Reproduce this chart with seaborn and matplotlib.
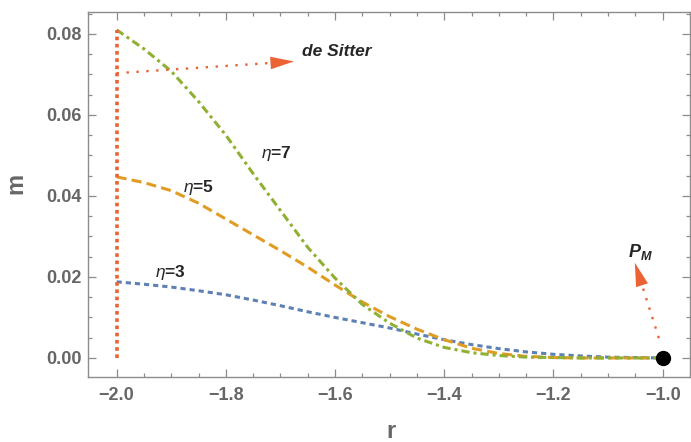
import pandas as pd
import matplotlib
matplotlib.use("Agg")
import matplotlib.pyplot as plt
import seaborn as sns

# values
r_vals = [-2.00, -1.95, -1.90, -1.85, -1.80, -1.75, -1.70, -1.65, -1.60, -1.55, -1.50,
          -1.45, -1.40, -1.35, -1.30, -1.25, -1.20, -1.15, -1.10, -1.05, -1.00]
m_eta3 = [0.0188, 0.0182, 0.0175, 0.0166, 0.0156, 0.0143, 0.0129, 0.0114, 0.0100, 0.0087, 0.0074,
          0.0059, 0.0045, 0.0033, 0.0023, 0.0015, 0.0009, 0.0005, 0.0002, 0.0001, 0.0]
m_eta5 = [0.0447, 0.0433, 0.0413, 0.0382, 0.0343, 0.0304, 0.0265, 0.0224, 0.0180, 0.0138, 0.0102,
          0.0071, 0.0045, 0.0024, 0.0011, 0.0004, 0.0001, 0.0, 0.0, 0.0, 0.0]
m_eta7 = [0.0810, 0.0763, 0.0708, 0.0633, 0.0550, 0.0455, 0.0364, 0.0273, 0.0197, 0.0132, 0.0086,
          0.0049, 0.0026, 0.0013, 0.0006, 0.0002, 0.0001, 0.0, 0.0, 0.0, 0.0]
eta_levels = ["3", "5", "7"]

# de Sitter line and arrow, end point P_M
ds_r = [-2.0, -2.0]
ds_m = [0.0, 0.081]
ds_arrow_r = [-2.0, -1.675]
ds_arrow_m = [0.0703, 0.0732]
pm_point_r = [-1.0]
pm_point_m = [0.0]
pm_arrow_r = [-1.007, -1.051]
pm_arrow_m = [0.0049, 0.0235]

blue, orange, green, red = "#5E81B5", "#E19C24", "#8FB032", "#EB6235"
gray = "#666666"

df = pd.concat([
    pd.DataFrame({"r": r_vals, "m": m, "eta": lvl})
    for lvl, m in zip(eta_levels, [m_eta3, m_eta5, m_eta7])
])

sns.set_style("ticks")
plt.rcParams["font.family"] = ["Liberation Sans", "DejaVu Sans"]
plt.rcParams["mathtext.fontset"] = "custom"
plt.rcParams["mathtext.rm"] = "Liberation Sans"
plt.rcParams["mathtext.it"] = "Liberation Sans:italic"
plt.rcParams["mathtext.bf"] = "Liberation Sans:bold"
plt.rcParams["mathtext.bfit"] = "Liberation Sans:italic:bold"

fig = plt.figure(figsize=(6.91, 4.42), dpi=100)
ax = fig.add_axes([88 / 691, 1 - 377 / 442, 602 / 691, 365 / 442])

sns.lineplot(data=df, x="r", y="m", hue="eta", style="eta", hue_order=eta_levels,
             style_order=eta_levels,
             palette={"3": blue, "5": orange, "7": green},
             dashes={"3": (1.7, 1.3), "5": (3.3, 1.7), "7": (2.7, 1.3, 1.0, 1.3)},
             linewidth=2.2, estimator=None, legend=False, ax=ax)

# de Sitter vertical line
ax.plot(ds_r, ds_m, color=red, lw=2.6, linestyle=(0, (1.0, 1.0)))


def dotted_arrow(rs, ms):
    ax.plot(rs, ms, color=red, lw=1.7, linestyle=(0, (1.0, 3.2)))
    ax.annotate("", xy=(rs[1], ms[1]), xytext=(rs[0], ms[0]),
                arrowprops=dict(arrowstyle="-|>,head_length=1.7,head_width=0.45",
                                fc=red, ec=red, lw=0, shrinkA=0, shrinkB=0,
                                mutation_scale=10))


dotted_arrow(ds_arrow_r, ds_arrow_m)
dotted_arrow(pm_arrow_r, pm_arrow_m)

ax.plot(pm_point_r, pm_point_m, "o", color="black", markersize=10, zorder=5)

ax.text(-1.660, 0.0757, "de Sitter", fontsize=12.5, fontweight="bold", style="italic",
        ha="left", va="center")
ax.text(-1.040, 0.0262, r"$\mathbfit{P}_\mathbfit{M}$", fontsize=13, ha="center", va="center")
ax.text(-1.707, 0.0505, r"$\eta$=7", fontsize=12.5, fontweight="bold", ha="center", va="center")
ax.text(-1.850, 0.0421, r"$\eta$=5", fontsize=12.5, fontweight="bold", ha="center", va="center")
ax.text(-1.901, 0.0212, r"$\eta$=3", fontsize=12.5, fontweight="bold", ha="center", va="center")

ax.set_xlim(-2.0524, -0.9639)
ax.set_ylim(-0.0047, 0.0854)
ax.set_xticks([-2.0, -1.8, -1.6, -1.4, -1.2, -1.0])
ax.set_xticks([-2.0 + 0.05 * i for i in range(22)], minor=True)
ax.set_yticks([0.0, 0.02, 0.04, 0.06, 0.08])
ax.set_yticks([0.005 * i for i in range(18)], minor=True)
ax.set_xticklabels(["\u22122.0", "\u22121.8", "\u22121.6", "\u22121.4", "\u22121.2", "\u22121.0"])
ax.set_yticklabels(["0.00", "0.02", "0.04", "0.06", "0.08"])

for s in ax.spines.values():
    s.set_visible(True)
    s.set_color("#8c8c8c")
    s.set_linewidth(1.0)
ax.tick_params(which="both", direction="in", top=True, right=True, colors="#8c8c8c",
               labelcolor=gray, width=0.9)
ax.tick_params(which="major", length=5.5)
ax.tick_params(which="minor", length=3)
ax.tick_params(axis="y", pad=4.5)
ax.tick_params(axis="x", pad=7)
for lab in ax.get_xticklabels() + ax.get_yticklabels():
    lab.set_fontsize(13)
    lab.set_fontweight("bold")

ax.set_xlabel("r", fontsize=17, fontweight="bold", color=gray)
ax.set_ylabel("m", fontsize=17, fontweight="bold", color=gray)
ax.xaxis.set_label_coords(0.503, -0.118)
ax.yaxis.set_label_coords(-0.10, 0.53)

fig.savefig("out.png", dpi=100)
